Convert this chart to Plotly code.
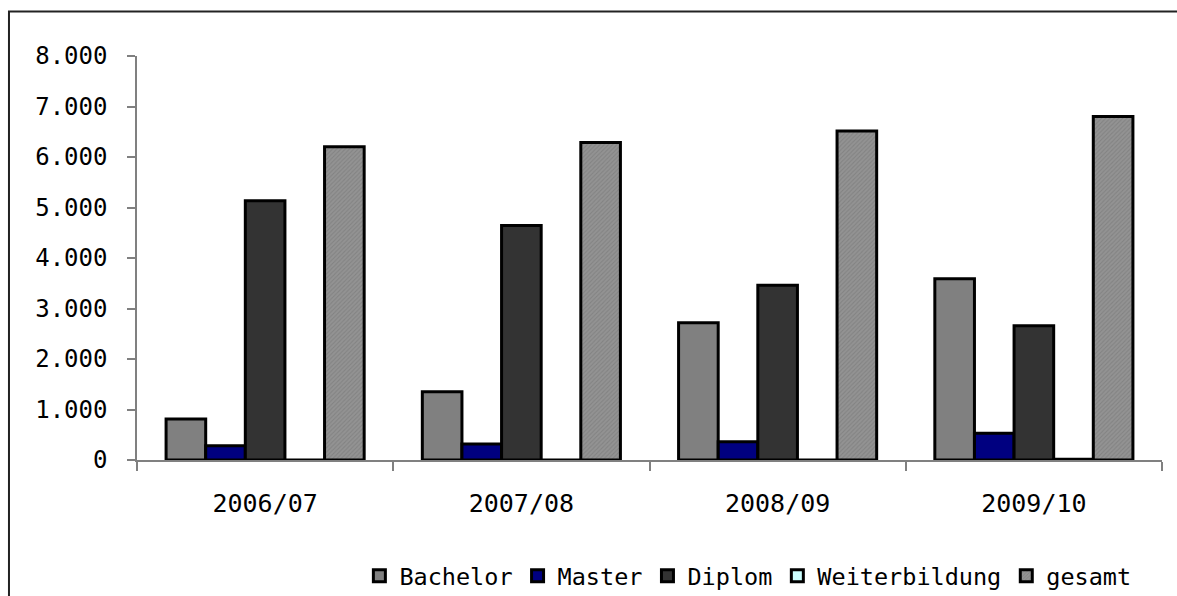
import plotly.graph_objects as go

years = ["2006/07", "2007/08", "2008/09", "2009/10"]
bachelor = [810, 1350, 2720, 3590]
master = [280, 315, 360, 530]
diplom = [5135, 4645, 3460, 2660]
weiterbildung = [0, 0, 0, 15]
gesamt = [6205, 6285, 6515, 6800]

y_ticks = [0, 1000, 2000, 3000, 4000, 5000, 6000, 7000, 8000]

FONT = "DejaVu Sans Mono"

fig = go.Figure()
line = dict(color="black", width=3)
fig.add_trace(go.Bar(name="Bachelor", x=years, y=bachelor,
                     marker=dict(color="#808080", line=line)))
fig.add_trace(go.Bar(name="Master", x=years, y=master,
                     marker=dict(color="#000080", line=line)))
fig.add_trace(go.Bar(name="Diplom", x=years, y=diplom,
                     marker=dict(color="#333333", line=line)))
fig.add_trace(go.Bar(name="Weiterbildung", x=years, y=weiterbildung,
                     marker=dict(color="#CCFFFF", line=line)))
fig.add_trace(go.Bar(name="gesamt", x=years, y=gesamt,
                     marker=dict(color="#8c8c8c", line=line,
                                 pattern=dict(shape="/", size=3, solidity=0.35,
                                              fgcolor="#727272", bgcolor="#939393"))))

fig.update_layout(
    width=1177, height=596,
    margin=dict(l=137, r=15, t=56, b=136, autoexpand=False),
    paper_bgcolor="white", plot_bgcolor="white",
    barmode="group", bargap=0.227, bargroupgap=0,
    separators=",.",
    font=dict(family=FONT, color="black"),
    showlegend=True,
    legend=dict(orientation="h", x=0.975, xanchor="right", y=-0.287, yanchor="middle",
                font=dict(family=FONT, size=23.5, color="black"),
                itemwidth=30, tracegroupgap=0, bgcolor="rgba(0,0,0,0)"),
    xaxis=dict(showline=True, linecolor="#808080", linewidth=1.5,
               ticks="outside", ticklen=9, tickcolor="#808080", tickwidth=1.5,
               tickson="boundaries", showgrid=False,
               tickfont=dict(family=FONT, size=25, color="black"),
               ticklabelstandoff=20),
    yaxis=dict(range=[0, 8000], tickvals=y_ticks, tickformat=",.0f",
               showline=True, linecolor="#808080", linewidth=1.5,
               ticks="outside", ticklen=8, tickcolor="#808080", tickwidth=1.5,
               showgrid=False, zeroline=False,
               tickfont=dict(family=FONT, size=24, color="black"),
               ticklabelstandoff=15),
    shapes=[dict(type="rect", xref="paper", yref="paper",
                 x0=-0.1249, x1=1.2, y0=-0.6, y1=1.110,
                 line=dict(color="#222222", width=2), layer="below")],
)

fig.write_html("out.html", config={"displayModeBar": False})

with open("out.html", "r", encoding="utf-8") as f:
    html = f.read()
html = html.replace("<head>", "<head><style>html,body{margin:0;padding:0;overflow:hidden;}</style>", 1)
with open("out.html", "w", encoding="utf-8") as f:
    f.write(html)
